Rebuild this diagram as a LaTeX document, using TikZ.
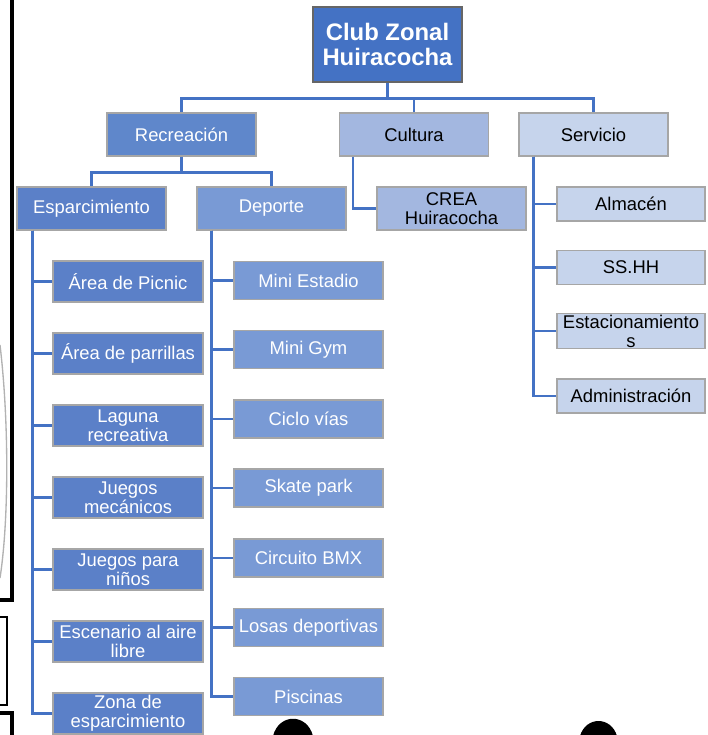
\documentclass[tikz,border=0pt]{standalone}
\usepackage{fontspec}
\setmainfont{Liberation Sans}

\definecolor{rootblue}{HTML}{4472C4}
\definecolor{recblue}{HTML}{5F87CB}
\definecolor{espblue}{HTML}{5B80C8}
\definecolor{depblue}{HTML}{799AD5}
\definecolor{culblue}{HTML}{A3B7E0}
\definecolor{serblue}{HTML}{C6D4EC}
\definecolor{linkblue}{HTML}{4472C4}

\tikzset{
  box/.style={draw=black!35, line width=0.8pt, inner sep=1pt, align=center,
    font=\fontsize{13.8}{14.3}\selectfont},
  rootbox/.style={box, fill=rootblue, draw=black!60, text=white,
    minimum width=111.75pt, minimum height=56.25pt,
    font=\fontsize{17.9}{18.8}\selectfont\bfseries},
  levelbox/.style={box, minimum width=111.75pt, minimum height=32.25pt},
  espitem/.style={box, fill=espblue, text=white, minimum width=112.5pt, minimum height=30.75pt},
  depitem/.style={box, fill=depblue, text=white, minimum width=111.75pt, minimum height=28.5pt},
  seritem/.style={box, fill=serblue, minimum width=111pt, minimum height=25.5pt},
  link/.style={draw=linkblue, line width=2.2pt},
}

\begin{document}
\begin{tikzpicture}[x=0.75pt,y=0.75pt,yscale=-1,xscale=1]
\useasboundingbox (0,0) rectangle (707,735);
\fill[white] (0,0) rectangle (707,735);

%page edge marks
\draw[line width=3pt] (12,-2) -- (12,600) -- (-2,600);
\draw[gray!60, line width=1pt] (0,345) .. controls (9,420) and (9,520) .. (0,578);
\draw[line width=1.5pt] (-2,617) -- (7,617) -- (7,705) -- (-2,705);
\draw[line width=3pt] (-2,713) -- (12,713) -- (12,737);
\fill (273,736) .. controls (279,713) and (307,713) .. (313,736) -- cycle;
\fill (580,736) .. controls (586,716) and (611,716) .. (617,736) -- cycle;

%top
\node (root) at (387.5,44.5) [rootbox] {Club Zonal\\Huiracocha};

%first level
\node (rec) at (181.5,134.5) [levelbox, fill=recblue, text=white] {Recreación};
\node (cul) at (414,134.5) [levelbox, fill=culblue] {Cultura};
\node (ser) at (593.5,134.5) [levelbox, fill=serblue] {Servicio};

%second level
\node (esp) at (91.5,208.5) [levelbox, fill=espblue, text=white] {Esparcimiento};
\node (dep) at (271.5,208.5) [levelbox, fill=depblue, text=white] {Deporte};
\node (crea) at (451.5,208.5) [levelbox, fill=culblue] {CREA\\Huiracocha};

%Esparcimiento
\node (picnic) at (128,281.5) [espitem] {Área de Picnic};
\node (parrilla) at (128,353.5) [espitem] {Área de parrillas};
\node (laguna) at (128,425.5) [espitem] {Laguna\\recreativa};
\node (mecan) at (128,497.5) [espitem] {Juegos\\mecánicos};
\node (ninos) at (128,569.5) [espitem] {Juegos para\\niños};
\node (escen) at (128,641.5) [espitem] {Escenario al aire\\libre};
\node (zona) at (128,713.5) [espitem] {Zona de\\esparcimiento};

%Deporte
\node (estadio) at (308.5,280.5) [depitem] {Mini Estadio};
\node (gym) at (308.5,349.5) [depitem] {Mini Gym};
\node (ciclo) at (308.5,419) [depitem] {Ciclo vías};
\node (skate) at (308.5,488) [depitem] {Skate park};
\node (bmx) at (308.5,558) [depitem] {Circuito BMX};
\node (losas) at (308.5,627.5) [depitem] {Losas deportivas};
\node (piscina) at (308.5,696.5) [depitem] {Piscinas};

%Servicio
\node (almacen) at (631,204) [seritem] {Almacén};
\node (sshh) at (631,267.5) [seritem] {SS.HH};
\node (estac) at (631,331) [seritem] {Estacionamiento\\s};
\node (admin) at (631,396) [seritem] {Administración};

%connectors
\draw[link] (root.south) -- ++(0,15.7) -| (rec.north);
\draw[link] (root.south) ++(0,15.7) -| (cul.north);
\draw[link] (root.south) ++(0,15.7) -| (ser.north);
\draw[link] (rec.south) -- ++(0,15.7) -| (esp.north);
\draw[link] (rec.south) ++(0,15.7) -| (dep.north);
\draw[link] (cul.south west) ++(14,0) |- (crea.west);
\foreach \n in {picnic,parrilla,laguna,mecan,ninos,escen,zona}
  \draw[link] (esp.south west) ++(16,0) |- (\n.west);
\foreach \n in {estadio,gym,ciclo,skate,bmx,losas,piscina}
  \draw[link] (dep.south west) ++(15,0) |- (\n.west);
\foreach \n in {almacen,sshh,estac,admin}
  \draw[link] (ser.south west) ++(15,0) |- (\n.west);

\end{tikzpicture}
\end{document}
